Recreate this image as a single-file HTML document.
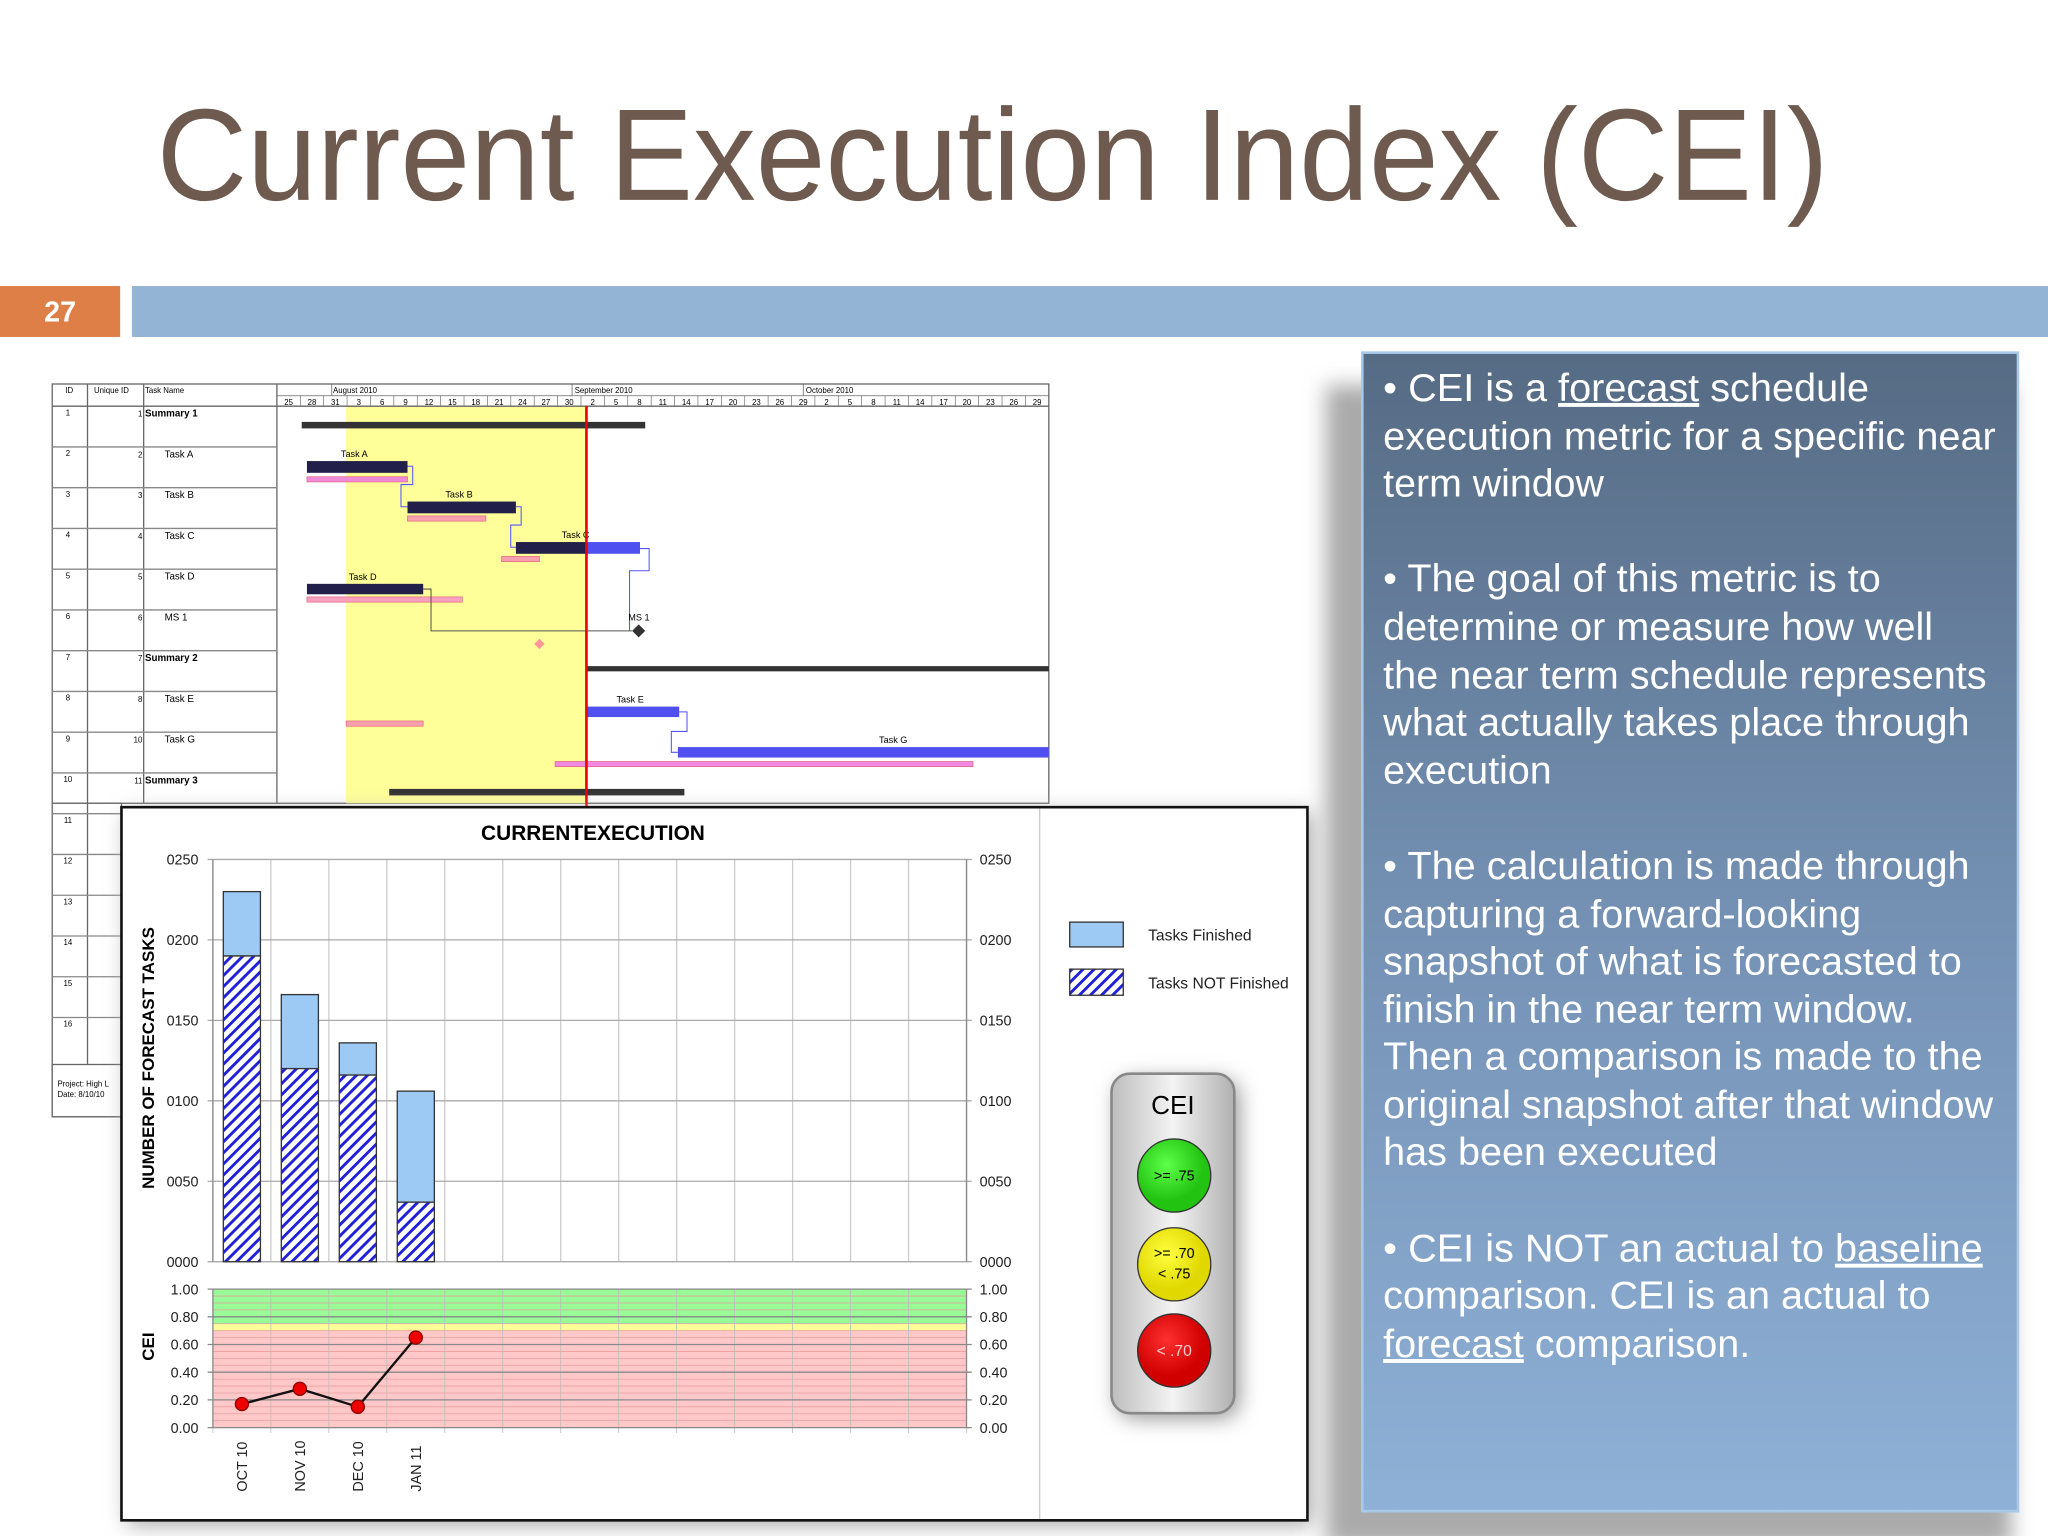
<!DOCTYPE html>
<html><head><meta charset="utf-8"><style>
html,body{margin:0;padding:0;background:#fff;}
svg{display:block;}
text{font-family:"Liberation Sans",sans-serif;}
</style></head><body>
<svg id="s" width="2048" height="1536" viewBox="0 0 1568 1176" xmlns="http://www.w3.org/2000/svg">
<defs>
<pattern id="hatch" width="6" height="6" patternUnits="userSpaceOnUse" patternTransform="rotate(45)">
<rect width="6" height="6" fill="#fff"/><rect width="2.2" height="6" fill="#1f1fd8"/></pattern>
<linearGradient id="pg" x1="0" y1="0" x2="0" y2="1"><stop offset="0" stop-color="#566b84"/><stop offset="0.5" stop-color="#7592b5"/><stop offset="1" stop-color="#8fb1d7"/></linearGradient>
<linearGradient id="tl" x1="0" y1="0" x2="1" y2="0"><stop offset="0" stop-color="#bdbdbd"/><stop offset="0.5" stop-color="#f4f4f4"/><stop offset="1" stop-color="#b0b0b0"/></linearGradient>
<radialGradient id="gG" cx="0.4" cy="0.35"><stop offset="0" stop-color="#5dff4a"/><stop offset="1" stop-color="#22c411"/></radialGradient>
<radialGradient id="gY" cx="0.4" cy="0.35"><stop offset="0" stop-color="#ffff40"/><stop offset="1" stop-color="#e0d800"/></radialGradient>
<radialGradient id="gR" cx="0.4" cy="0.35"><stop offset="0" stop-color="#ff3030"/><stop offset="1" stop-color="#d00000"/></radialGradient>
<filter id="sh" x="-20%" y="-20%" width="140%" height="140%"><feGaussianBlur stdDeviation="8"/></filter>
</defs>

<text x="120" y="153" font-size="100" fill="#6e5a4e" textLength="1280" lengthAdjust="spacingAndGlyphs">Current Execution Index (CEI)</text>
<rect x="0" y="219" width="92" height="39" fill="#df7f48"/>
<text x="46" y="246" font-size="22" font-weight="bold" fill="#fff" text-anchor="middle">27</text>
<rect x="101" y="219" width="1467" height="39" fill="#93b4d4"/>

<!-- Gantt -->
<g id="gantt">
<rect x="40" y="294" width="763" height="321" fill="#fff" stroke="#666" stroke-width="1"/>
<rect x="40" y="615" width="53" height="240" fill="#fff" stroke="#666" stroke-width="1"/>
<rect x="265" y="311" width="184" height="304" fill="#ffff99"/>
<line x1="212" y1="294" x2="212" y2="615" stroke="#666"/>
<line x1="67" y1="294" x2="67" y2="815" stroke="#666"/>
<line x1="110" y1="294" x2="110" y2="615" stroke="#666"/>
<line x1="40" y1="311" x2="803" y2="311" stroke="#666"/>
<line x1="212" y1="303" x2="803" y2="303" stroke="#666" stroke-width="0.6"/>
<text x="50" y="301" font-size="6">ID</text><text x="72" y="301" font-size="6">Unique ID</text><text x="111" y="301" font-size="6">Task Name</text>
<text x="255" y="301" font-size="6">August 2010</text><text x="440" y="301" font-size="6">September 2010</text><text x="617" y="301" font-size="6">October 2010</text>
<line x1="254" y1="294" x2="254" y2="303" stroke="#666" stroke-width="0.6"/><line x1="438" y1="294" x2="438" y2="303" stroke="#666" stroke-width="0.6"/><line x1="615" y1="294" x2="615" y2="303" stroke="#666" stroke-width="0.6"/>
<g id="days"></g><g id="rows"></g>
<rect x="40" y="815" width="53" height="40" fill="#fff" stroke="#666"/>
<text x="44" y="832" font-size="6">Project: High L</text><text x="44" y="840" font-size="6">Date: 8/10/10</text>
<rect x="231" y="323" width="263" height="5" fill="#333"/>
<rect x="235" y="353" width="77" height="9" fill="#22204a"/><rect x="235" y="365" width="77" height="4" fill="#f18ad8" stroke="#e0607a" stroke-width="0.5"/>
<text x="261" y="350" font-size="7">Task A</text>
<rect x="312" y="384" width="83" height="9" fill="#22204a"/><rect x="312" y="395" width="60" height="4" fill="#f7a0b0" stroke="#e0607a" stroke-width="0.5"/>
<text x="341" y="381" font-size="7">Task B</text>
<rect x="395" y="415" width="54" height="9" fill="#22204a"/><rect x="449" y="415" width="41" height="9" fill="#5050f0"/><rect x="384" y="426" width="29" height="4" fill="#f7a0b0" stroke="#e0607a" stroke-width="0.5"/>
<text x="430" y="412" font-size="7">Task C</text>
<rect x="235" y="447" width="89" height="8" fill="#22204a"/><rect x="235" y="457" width="119" height="4" fill="#f7a0c0" stroke="#e0607a" stroke-width="0.5"/>
<text x="267" y="444" font-size="7">Task D</text>
<polyline points="324,451 330,451 330,483 484,483" fill="none" stroke="#555" stroke-width="0.8"/>
<polyline points="490,420 497,420 497,437 482,437 482,483" fill="none" stroke="#55f" stroke-width="0.8"/>
<polyline points="312,357 316,357 316,371 307,371 307,388 312,388" fill="none" stroke="#55f" stroke-width="0.8"/>
<polyline points="395,388 399,388 399,402 391,402 391,419 395,419" fill="none" stroke="#55f" stroke-width="0.8"/>
<polygon points="489,478 494,483 489,488 484,483" fill="#333"/><text x="481" y="475" font-size="7">MS 1</text>
<polygon points="413,489 417,493 413,497 409,493" fill="#f99"/>
<rect x="449" y="510" width="354" height="4" fill="#333"/>
<rect x="449" y="541" width="71" height="8" fill="#5050f0"/><rect x="265" y="552" width="59" height="4" fill="#f7a0b0" stroke="#e0607a" stroke-width="0.5"/>
<text x="472" y="538" font-size="7">Task E</text>
<polyline points="520,545 526,545 526,560 514,560 514,576 519,576" fill="none" stroke="#55f" stroke-width="0.8"/>
<rect x="519" y="572" width="284" height="8" fill="#5050f0"/><rect x="425" y="583" width="320" height="4" fill="#f08ae0" stroke="#e0607a" stroke-width="0.5"/>
<text x="673" y="569" font-size="7">Task G</text>
<rect x="298" y="604" width="226" height="5" fill="#333"/>
<line x1="449" y1="311" x2="449" y2="617" stroke="#e00" stroke-width="2"/>
</g>

<!-- Chart -->
<rect x="97" y="622" width="908" height="546" fill="#aaa" filter="url(#sh)"/>
<rect x="93" y="618" width="908" height="546" fill="#fff" stroke="#111" stroke-width="2"/>
<line x1="796" y1="619" x2="796" y2="1163" stroke="#ccc"/>
<text x="454" y="643" font-size="16" font-weight="bold" text-anchor="middle">CURRENTEXECUTION</text>
<text transform="translate(118,810) rotate(-90)" font-size="13" font-weight="bold" text-anchor="middle">NUMBER OF FORECAST TASKS</text>
<text transform="translate(118,1031) rotate(-90)" font-size="13" font-weight="bold" text-anchor="middle">CEI</text>
<g id="chart"></g>

<!-- Legend -->
<rect x="819" y="706" width="41" height="19" fill="#9dcaf5" stroke="#333"/>
<text x="879" y="720" font-size="12" fill="#222">Tasks Finished</text>
<rect x="819" y="742" width="41" height="20" fill="url(#hatch)" stroke="#333"/>
<text x="879" y="757" font-size="12" fill="#222">Tasks NOT Finished</text>

<!-- Traffic light -->
<g>
<rect x="855" y="826" width="94" height="260" rx="14" fill="#999" filter="url(#sh)"/>
<rect x="851" y="822" width="94" height="260" rx="14" fill="url(#tl)" stroke="#888" stroke-width="2"/>
<text x="898" y="853" font-size="20" text-anchor="middle">CEI</text>
<circle cx="899" cy="900" r="28" fill="url(#gG)" stroke="#333"/><text x="899" y="904" font-size="11" text-anchor="middle">&gt;= .75</text>
<circle cx="899" cy="968" r="28" fill="url(#gY)" stroke="#333"/><text x="899" y="963" font-size="11" text-anchor="middle">&gt;= .70</text><text x="899" y="979" font-size="11" text-anchor="middle">&lt; .75</text>
<circle cx="899" cy="1034" r="28" fill="url(#gR)" stroke="#333"/><text x="899" y="1038" font-size="12" text-anchor="middle" fill="#fcc">&lt; .70</text>
</g>

<!-- Right panel -->
<rect x="1015" y="295" width="525" height="890" fill="#aaa" filter="url(#sh)"/>
<rect x="1043" y="270" width="502" height="887" fill="url(#pg)" stroke="#aac8e8" stroke-width="2"/>
<g fill="#fff" font-size="30">
<text x="1059" y="307" textLength="372" lengthAdjust="spacingAndGlyphs">• CEI is a <tspan text-decoration="underline">forecast</tspan> schedule</text>
<text x="1059" y="344" textLength="469" lengthAdjust="spacingAndGlyphs">execution metric for a specific near</text>
<text x="1059" y="380" textLength="169" lengthAdjust="spacingAndGlyphs">term window</text>
<text x="1059" y="453" textLength="381" lengthAdjust="spacingAndGlyphs">• The goal of this metric is to</text>
<text x="1059" y="490" textLength="421" lengthAdjust="spacingAndGlyphs">determine or measure how well</text>
<text x="1059" y="527" textLength="462" lengthAdjust="spacingAndGlyphs">the near term schedule represents</text>
<text x="1059" y="563" textLength="449" lengthAdjust="spacingAndGlyphs">what actually takes place through</text>
<text x="1059" y="600" textLength="129" lengthAdjust="spacingAndGlyphs">execution</text>
<text x="1059" y="673" textLength="449" lengthAdjust="spacingAndGlyphs">• The calculation is made through</text>
<text x="1059" y="710" textLength="366" lengthAdjust="spacingAndGlyphs">capturing a forward-looking</text>
<text x="1059" y="746" textLength="443" lengthAdjust="spacingAndGlyphs">snapshot of what is forecasted to</text>
<text x="1059" y="783" textLength="407" lengthAdjust="spacingAndGlyphs">finish in the near term window.</text>
<text x="1059" y="819" textLength="459" lengthAdjust="spacingAndGlyphs">Then a comparison is made to the</text>
<text x="1059" y="856" textLength="467" lengthAdjust="spacingAndGlyphs">original snapshot after that window</text>
<text x="1059" y="892" textLength="256" lengthAdjust="spacingAndGlyphs">has been executed</text>
<text x="1059" y="966" textLength="459" lengthAdjust="spacingAndGlyphs">• CEI is NOT an actual to <tspan text-decoration="underline">baseline</tspan></text>
<text x="1059" y="1002" textLength="419" lengthAdjust="spacingAndGlyphs">comparison. CEI is an actual to</text>
<text x="1059" y="1039" textLength="281" lengthAdjust="spacingAndGlyphs"><tspan text-decoration="underline">forecast</tspan> comparison.</text>
</g>
</svg>
<script>
const categories = ["OCT 10","NOV 10","DEC 10","JAN 11"];
const totalTasks = [230, 166, 136, 106];
const notFinished = [190, 120, 116, 37];
const ceiValues = [0.17, 0.28, 0.15, 0.65];
const countTicks = ["0000","0050","0100","0150","0200","0250"];
const ceiTicks = ["0.00","0.20","0.40","0.60","0.80","1.00"];
const days = ["25","28","31","3","6","9","12","15","18","21","24","27","30","2","5","8","11","14","17","20","23","26","29","2","5","8","11","14","17","20","23","26","29"];

const NS="http://www.w3.org/2000/svg";
function mk(p,tag,a,txt){const e=document.createElementNS(NS,tag);for(const k in a)e.setAttribute(k,a[k]);if(txt!==undefined)e.textContent=txt;p.appendChild(e);return e;}

const dg=document.getElementById('days');
const dw=(803-212)/days.length;
days.forEach((d,i)=>{
  const t=mk(dg,'text',{x:212+dw*i+dw/2,y:310,'font-size':6,'text-anchor':'middle'},d);
  
  
  mk(dg,'line',{x1:212+dw*i,y1:303,x2:212+dw*i,y2:311,stroke:'#666','stroke-width':0.5});
});
const rg=document.getElementById('rows');
const names=["Summary 1","Task A","Task B","Task C","Task D","MS 1","Summary 2","Task E","Task G","Summary 3"];
const uids=[1,2,3,4,5,6,7,8,10,11];
for(let i=0;i<16;i++){
  const y=311+31.2*i;
  const r=mk(rg,'text',{x:52,y:y+7,'font-size':6,'text-anchor':'middle'},String(i+1));
  
  
  if(i>0) mk(rg,'line',{x1:40,y1:y,x2:i<10?212:93,y2:y,stroke:'#888','stroke-width':1});
  if(i<10){
    const bold=names[i].startsWith('Summary');
    mk(rg,'text',{x:109,y:y+8,'font-size':6,'text-anchor':'end'},String(uids[i]));
    const t=mk(rg,'text',{x:bold?111:126,y:y+8,'font-size':7.5,'font-weight':bold?'bold':'normal'},names[i]);
    
    
  }
}

const g=document.getElementById('chart');
const X0=163,X1=740,NC=13,cw=(X1-X0)/NC;
const Y0=966,Y1=658,CY0=1093,CY1=987;
const ys=v=>Y0-(v/250)*(Y0-Y1);
const cys=v=>CY0-v*(CY0-CY1);
const xc=i=>X0+cw*i+cw/2;
mk(g,'rect',{x:X0,y:cys(1),width:X1-X0,height:cys(0.75)-cys(1),fill:'#98fb98'});
mk(g,'rect',{x:X0,y:cys(0.75),width:X1-X0,height:cys(0.70)-cys(0.75),fill:'#ffff99'});
mk(g,'rect',{x:X0,y:cys(0.70),width:X1-X0,height:cys(0)-cys(0.70),fill:'#ffc8c8'});
for(let k=1;k<20;k++){if(k%4)mk(g,'line',{x1:X0,y1:cys(k/20),x2:X1,y2:cys(k/20),stroke:'#e8a0a0','stroke-width':0.6});}
for(let i=0;i<=NC;i++){
  mk(g,'line',{x1:X0+cw*i,y1:Y1,x2:X0+cw*i,y2:Y0,stroke:'#ccc'});
  mk(g,'line',{x1:X0+cw*i,y1:CY1,x2:X0+cw*i,y2:CY0+4,stroke:'#bbb','stroke-width':0.6});
}
countTicks.forEach((t,i)=>{
  const y=ys(i*50);
  mk(g,'line',{x1:X0-4,y1:y,x2:X1+4,y2:y,stroke:'#aaa'});
  const a=mk(g,'text',{x:152,y:y+4,'font-size':11,'text-anchor':'end',fill:'#222'},t);
  
  
  const b=mk(g,'text',{x:750,y:y+4,'font-size':11,fill:'#222'},t);
  
  
});
ceiTicks.forEach((t,i)=>{
  const y=cys(i*0.2);
  mk(g,'line',{x1:X0-4,y1:y,x2:X1+4,y2:y,stroke:'#888'});
  const a=mk(g,'text',{x:152,y:y+4,'font-size':11,'text-anchor':'end',fill:'#222'},t);
  
  
  const b=mk(g,'text',{x:750,y:y+4,'font-size':11,fill:'#222'},t);
  
  
});
mk(g,'line',{x1:X0,y1:Y1,x2:X0,y2:Y0,stroke:'#888'});
mk(g,'line',{x1:X1,y1:Y1,x2:X1,y2:Y0,stroke:'#888'});
mk(g,'line',{x1:X0,y1:CY1,x2:X0,y2:CY0,stroke:'#888'});
mk(g,'line',{x1:X1,y1:CY1,x2:X1,y2:CY0,stroke:'#888'});
const bw=cw*0.64;
categories.forEach((c,i)=>{
  const x=xc(i)-bw/2;
  const b1=mk(g,'rect',{x:x,y:ys(totalTasks[i]),width:bw,height:ys(notFinished[i])-ys(totalTasks[i]),fill:'#9dcaf5',stroke:'#333','stroke-width':1});
  
  
  const b2=mk(g,'rect',{x:x,y:ys(notFinished[i]),width:bw,height:Y0-ys(notFinished[i]),fill:'url(#hatch)',stroke:'#333','stroke-width':1});
  
  
  const t=mk(g,'text',{transform:`translate(${xc(i)+4},1142) rotate(-90)`,'font-size':11,fill:'#222'},c);
  
  
});
const pts=ceiValues.map((v,i)=>xc(i)+','+cys(v)).join(' ');
const pl=mk(g,'polyline',{points:pts,fill:'none',stroke:'#111','stroke-width':1.8});


ceiValues.forEach((v,i)=>{
  const c=mk(g,'circle',{cx:xc(i),cy:cys(v),r:5,fill:'#e00',stroke:'#800'});
  
  
});
</script>
</body></html>
